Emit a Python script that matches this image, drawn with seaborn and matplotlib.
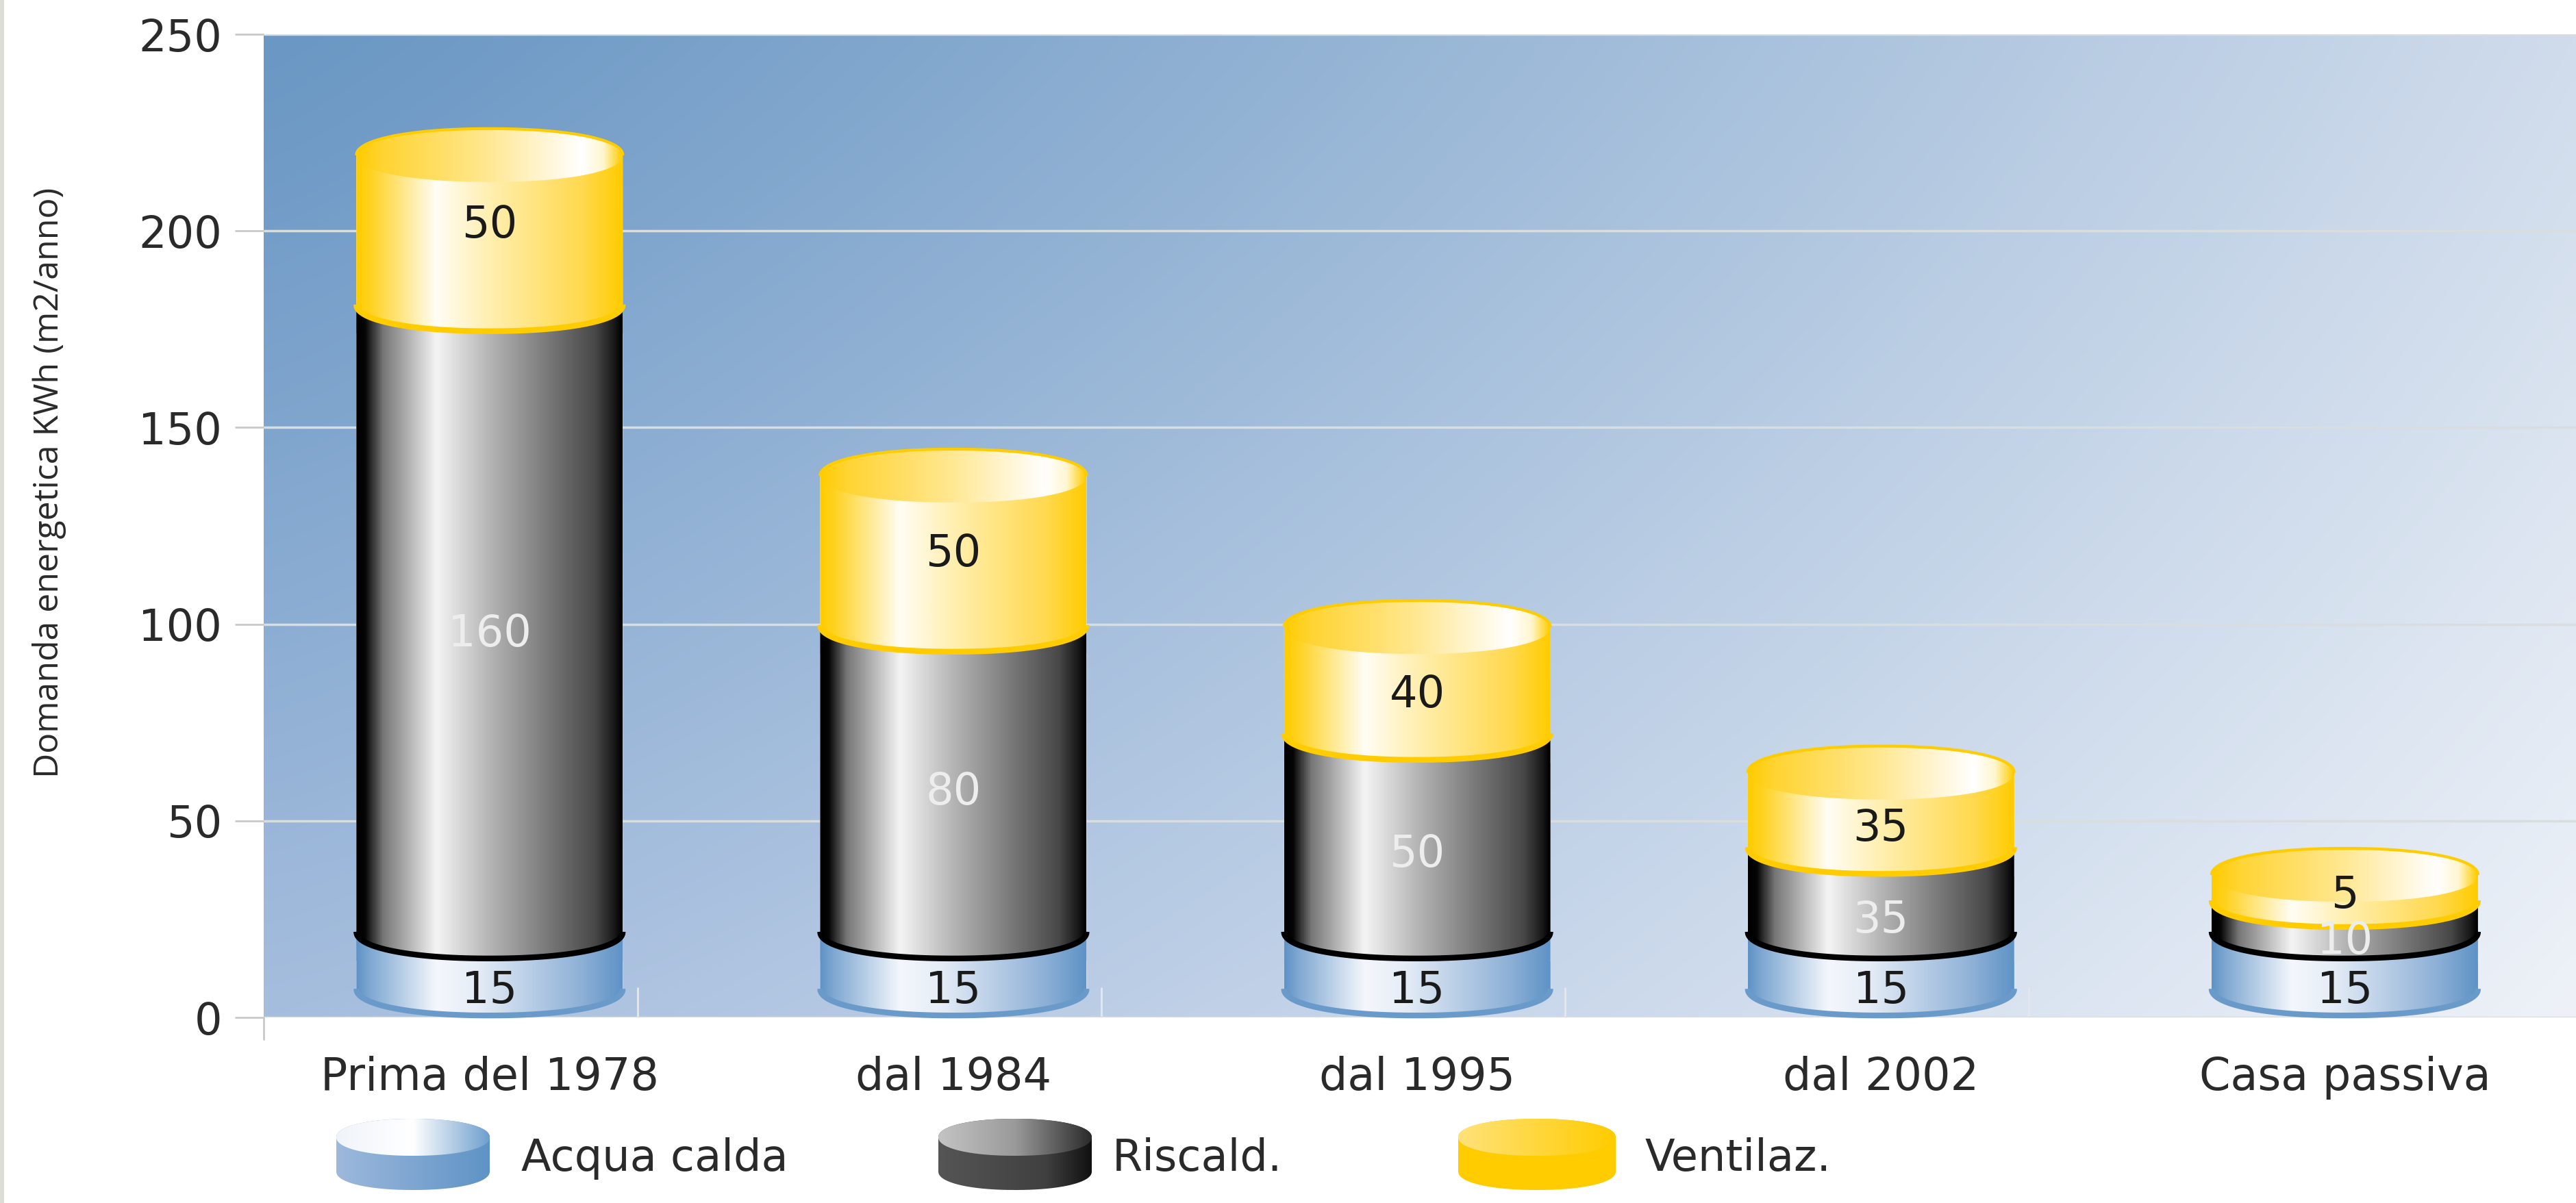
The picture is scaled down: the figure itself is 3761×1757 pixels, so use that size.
import numpy as np
import matplotlib
matplotlib.use("Agg")
import matplotlib.pyplot as plt
from matplotlib.colors import LinearSegmentedColormap
from matplotlib.path import Path
from matplotlib.patches import Rectangle
import seaborn as sns

# testi
categorie = ["Prima del 1978", "dal 1984", "dal 1995", "dal 2002", "Casa passiva"]
serie = ["Acqua calda", "Riscald.", "Ventilaz."]
y_ticks = [0, 50, 100, 150, 200, 250]
y_label = "Domanda energetica KWh (m2/anno)"

# altezze (non sempre coincidono con le etichette)
acqua = [14.5, 14.5, 14.5, 14.5, 14.5]
riscald = [159.5, 78, 50.5, 21.5, 8]
ventilaz = [52, 52, 41, 33, 20.5]

# etichette scritte sulle colonne
acqua_lab = [15, 15, 15, 15, 15]
riscald_lab = [160, 80, 50, 35, 10]
ventilaz_lab = [50, 50, 40, 35, 5]

W, H = 3762, 1757

# gradienti orizzontali
blu_stops = [(0, "#5F93C6"), (0.05, "#7FA8D2"), (0.3, "#F4F7FC"), (0.45, "#E6EDF7"), (0.85, "#8DB0D6"), (1, "#5F93C6")]
grigio_stops = [(0, "#000000"), (0.03, "#050505"), (0.1, "#777777"), (0.3, "#F4F4F4"), (0.5, "#B5B5B5"), (0.9, "#484848"), (0.97, "#1A1A1A"), (1, "#000000")]
giallo_stops = [(0, "#FFCC00"), (0.05, "#FFD21F"), (0.3, "#FFFDF5"), (0.5, "#FFEFB0"), (0.85, "#FFD94F"), (1, "#FFCC00")]
cappello_stops = [(0, "#FFCC00"), (0.1, "#FFD433"), (0.5, "#FFE893"), (0.85, "#FFFFFF"), (0.93, "#FFF6D0"), (1, "#FFCC00")]

sns.set_style("white")
plt.rcParams["font.family"] = ["DejaVu Sans"]

fig = plt.figure(figsize=(W / 100, H / 100), dpi=100)
fig.patch.set_facecolor("white")
ax = fig.add_axes([385 / W, 1 - 1486 / H, (W - 385) / W, (1486 - 50) / H])
over = fig.add_axes([0, 0, 1, 1], zorder=5)
over.set_xlim(0, W)
over.set_ylim(H, 0)
over.axis("off")


def cmap(stops):
    return LinearSegmentedColormap.from_list("g", stops)


def gradiente(a, stops, x0, x1, y0, y1, path, z):
    g = np.linspace(0, 1, 400)[None, :]
    im = a.imshow(g, cmap=cmap(stops), extent=[x0, x1, y0, y1], aspect="auto", zorder=z,
                  interpolation="bilinear", vmin=0, vmax=1)
    im.set_clip_path(path, transform=a.transData)
    return im


def arco(cx, r, cy, e, t0, t1, n=2.15):
    # superellisse: i cilindri hanno gli angoli un po' piu' pieni di un'ellisse
    t = np.linspace(t0, t1, 120)
    c, s = np.cos(t), np.sin(t)
    return np.column_stack([cx + r * np.sign(c) * np.abs(c) ** (2 / n), cy + e * np.sign(s) * np.abs(s) ** (2 / n)])


def corpo(cx, r, fondo, cima, e, chiuso):
    # fondo = punto frontale dell'ellisse inferiore
    low = arco(cx, r, fondo + e, e, np.pi, 2 * np.pi)
    if chiuso:
        up = arco(cx, r, cima - e, e, 0, np.pi)
    else:
        up = np.array([[cx + r, cima + e], [cx - r, cima + e]])
    return Path(np.vstack([low, up, low[:1]]))


# sfondo
nx, ny = 300, 200
u, v = np.meshgrid(np.linspace(0, 1, nx) ** 1.15, np.linspace(0, 1, ny) ** 1.1)
tl, tr, bl, br = [np.array(c) / 255 for c in [(106, 151, 196), (208, 220, 236), (166, 190, 222), (238, 242, 248)]]
bg = ((1 - u) * (1 - v))[..., None] * tl + (u * (1 - v))[..., None] * tr + ((1 - u) * v)[..., None] * bl + (u * v)[..., None] * br
ax.imshow(bg, extent=[-0.487, 4.5, 0, 250], aspect="auto", zorder=0, origin="upper", interpolation="bilinear")

# barre impilate con seaborn
base = np.array(acqua)
mezzo = base + np.array(riscald)
larg = 389 / 677.3
sns.barplot(x=categorie, y=acqua, color="#7FA8D2", saturation=1, width=larg, ax=ax, zorder=2)
sns.barplot(x=categorie, y=riscald, bottom=base, color="#777777", saturation=1, width=larg, ax=ax, zorder=3)
sns.barplot(x=categorie, y=ventilaz, bottom=mezzo, color="#FFD94F", saturation=1, width=larg, ax=ax, zorder=4)

ax.set_xlim(-0.487, 4.5)
ax.set_ylim(0, 250)
e = 39 / (1436 / 250)  # semiasse ellissi in unita' dati

# quota delle scritte sulle colonne, come nel disegno
quote = [[6.8] * 5, [97.5, 57.3, 41.4, 24.7, 19.3], [201.5, 117.9, 82, 48.1, 31]]

stili = [(blu_stops, "#6A9ACA", 2, acqua_lab, "#1A1A1A"),
         (grigio_stops, "#000000", 3, riscald_lab, "#EDEDED"),
         (giallo_stops, "#FFCC00", 4, ventilaz_lab, "#1A1A1A")]
for cont, (stops, bordo, z, labs, col), yq in zip(ax.containers, stili, quote):
    for p, lab, yl in zip(cont.patches, labs, yq):
        x0, w = p.get_x(), p.get_width()
        fondo, cima = p.get_y(), p.get_y() + p.get_height()
        cx, r = x0 + w / 2, w / 2
        chiuso = z == 4
        path = corpo(cx, r, fondo, cima, e, chiuso)
        p.set_clip_path(path, transform=ax.transData)
        gradiente(ax, stops, x0, x0 + w, fondo, cima + e + 1, path, z)
        a = arco(cx, r, fondo + e + 0.5, e, np.pi, 2 * np.pi)
        ax.plot(a[:, 0], a[:, 1], color=bordo, lw=6, zorder=z + 0.2, clip_on=False, solid_capstyle="butt")
        if chiuso:
            cap = arco(cx, r, cima - e, e, 0, 2 * np.pi)
            gradiente(ax, cappello_stops, x0, x0 + w, cima - 2 * e, cima, Path(cap), z + 0.3)
            sup = arco(cx, r, cima - e, e, 0, np.pi)
            ax.plot(sup[:, 0], sup[:, 1], color="#FFCC00", lw=3, zorder=z + 0.4, solid_capstyle="butt")
        ax.text(cx, yl, str(lab), color=col, ha="center", va="center", fontsize=46, zorder=7)

# assi
ax.set_yticks(y_ticks)
ax.set_xticks(range(5))
ax.set_xticklabels(categorie)
ax.set_xticks(np.arange(4) + 0.319, minor=True)
ax.grid(True, axis="y", color="#DADDDD", lw=2.5)
ax.grid(False, axis="x")
ax.set_axisbelow(True)
for s in ["top", "right", "left", "bottom"]:
    ax.spines[s].set_visible(False)
ax.tick_params(axis="y", length=30, width=2, color="#C9C9C9", pad=14, labelsize=46, labelcolor="#2A2A2A", left=True)
ax.tick_params(axis="x", which="major", length=0, pad=40, labelsize=47, labelcolor="#2A2A2A")
ax.tick_params(axis="x", which="minor", length=32, width=2, color="#E4E8EE", direction="in", bottom=True)
fig.text(72 / W, 1 - 705 / H, y_label, rotation=90, ha="center", va="center", fontsize=36,
         color="#2A2A2A", family=["Open Sans"])

# asse verticale e bordo sinistro
over.plot([385, 385], [1486, 1518], color="#C9C9C9", lw=2)
over.add_patch(Rectangle((0, 0), 6, H, color="#DDDDD8", lw=0))

# legenda
leg_blu = ([(0, "#F0F4FA"), (0.5, "#FFFFFF"), (1, "#6F9FCE")], [(0, "#9DB9DC"), (1, "#5F93C6")], "#5F93C6")
leg_gri = ([(0, "#C4C4C4"), (0.5, "#9A9A9A"), (1, "#2B2B2B")], [(0, "#555555"), (0.7, "#404040"), (1, "#111111")], "#222222")
leg_gia = ([(0, "#FFE27A"), (1, "#FFCC00")], [(0, "#FFCC00"), (1, "#FFCC00")], "#FFCC00")
leg_x = [(491, 715), (1370, 1594), (2129, 2359)]
leg_tx = [761, 1624, 2402]
for (xa, xb), tx, (st_top, st_body, bordo), nome in zip(leg_x, leg_tx, [leg_blu, leg_gri, leg_gia], serie):
    cx, r = (xa + xb) / 2, (xb - xa) / 2
    ytop, ybot, ee = 1634, 1738, 27
    low = arco(cx, r, ybot - ee, ee, 0, np.pi)
    up = arco(cx, r, ytop + ee, ee, np.pi, 2 * np.pi)
    gradiente(over, st_body, xa, xb, ybot, ytop, Path(np.vstack([low, up, low[:1]])), 2)
    cap = arco(cx, r, ytop + ee, ee, 0, 2 * np.pi)
    gradiente(over, st_top, xa, xb, ytop + 2 * ee, ytop, Path(cap), 3)
    over.text(tx, 1692, nome, fontsize=46, color="#2A2A2A", ha="left", va="center")
over.set_xlim(0, W)
over.set_ylim(H, 0)
over.axis("off")

fig.savefig("out.png", dpi=100)
